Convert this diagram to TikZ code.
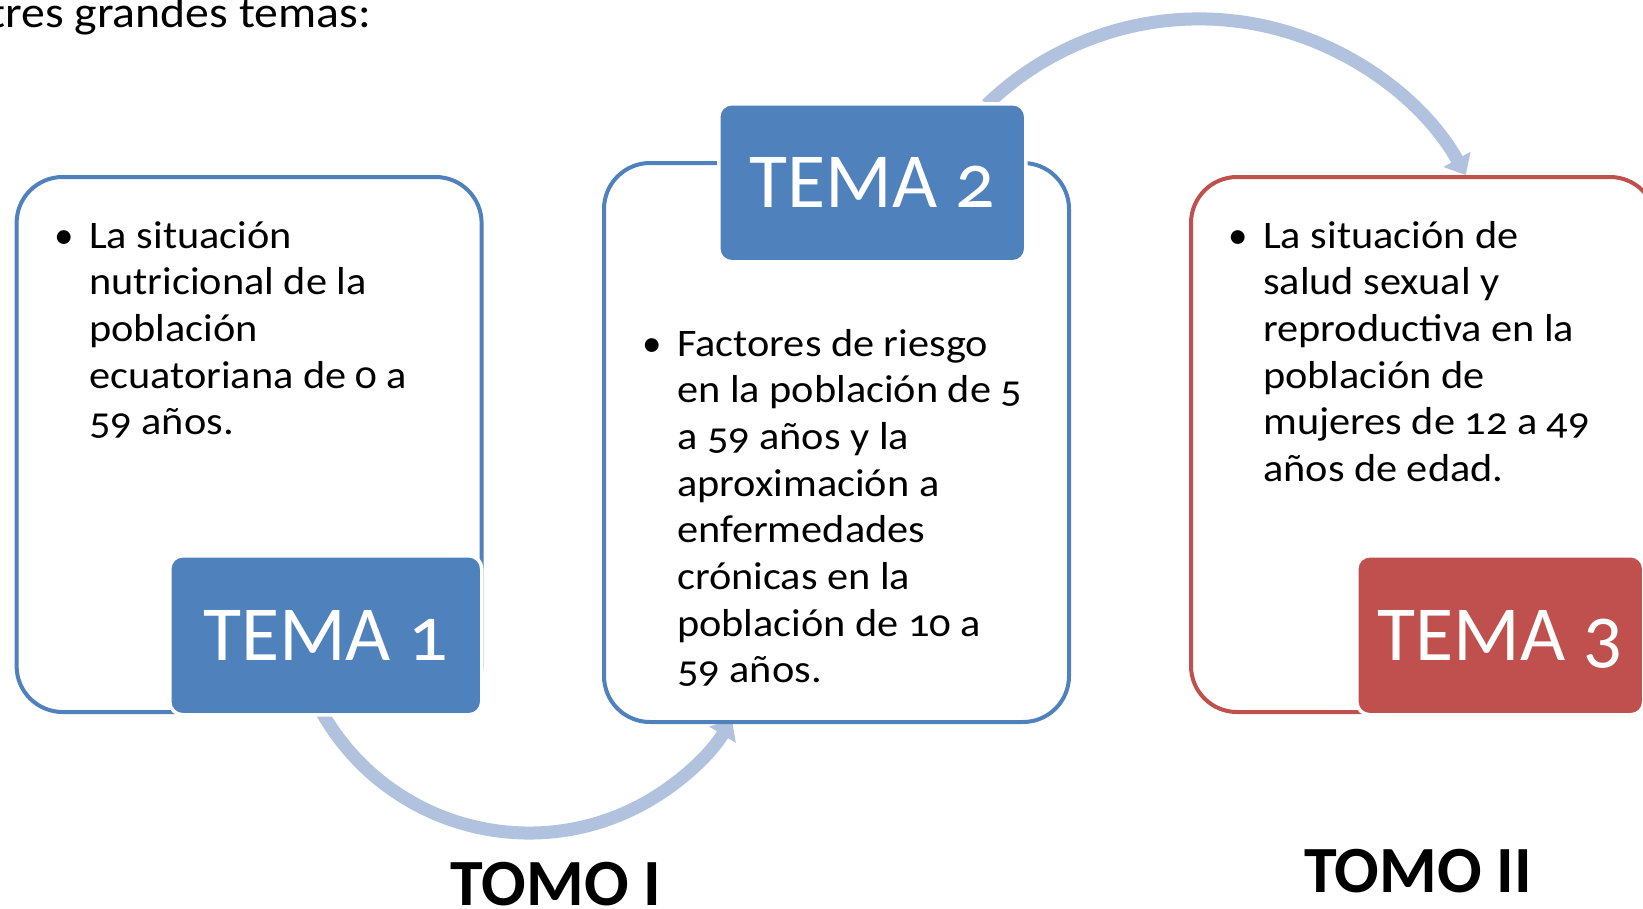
\documentclass[tikz,border=0pt]{standalone}
\usepackage{fontspec}
\setmainfont{Carlito}[Numbers=OldStyle]
\newfontfamily\bodyfont{Carlito}[Numbers=OldStyle,FakeStretch=1.085]
\usetikzlibrary{arrows.meta}
\definecolor{temablue}{RGB}{79,129,189}
\definecolor{temared}{RGB}{192,80,77}
\definecolor{arrowblue}{RGB}{177,194,222}
\tikzset{
  outlinebox/.style={line width=4pt, rounded corners=46pt, fill=white, anchor=north west, inner sep=0pt},
  temabox/.style={draw=white, line width=3.5pt, rounded corners=13pt, anchor=north west,
    text=white, font=\fontsize{78}{90}\selectfont, text depth=0pt, inner sep=0pt},
  bodytext/.style={align=left, anchor=base west, inner sep=0pt, font=\bodyfont\fontsize{39}{46.7}\selectfont},
  bulletmark/.style={anchor=base, inner sep=0pt, font=\fontsize{39}{46.7}\selectfont},
  tomolabel/.style={anchor=base, inner sep=0pt, font=\fontsize{66}{70}\selectfont\bfseries},
  bigarrow/.style={draw=arrowblue, line width=13pt, -{Triangle[width=30pt,length=18pt]}},
}
\begin{document}
\begin{tikzpicture}[x=1pt,y=1pt]
\clip (0,0) rectangle (1643,-908);
\fill[white] (0,0) rectangle (1643,-908);

% intro text
\node[anchor=base east, inner sep=0pt, font=\bodyfont\fontsize{44}{50}\selectfont] (intro) at (371,-27) {tres grandes temas:};

% arrows (drawn first, behind boxes)
\coordinate (a1s) at ({529+238*cos(209)},{-595+238*sin(209)});
\draw[bigarrow] (a1s) arc[start angle=209, end angle=328.5, radius=238];
\coordinate (a2s) at ({1199.1+305.8*cos(134)},{-324.7+305.8*sin(134)});
\draw[bigarrow] (a2s) arc[start angle=134, end angle=29.3, radius=305.8];

% outline boxes
\node[outlinebox, draw=temablue, minimum width=465pt, minimum height=535pt] (b1) at (14.6,-175) {};
\node[outlinebox, draw=temablue, minimum width=465pt, minimum height=559pt] (b2) at (602,-161) {};
\node[outlinebox, draw=temared, minimum width=465pt, minimum height=535pt] (b3) at (1189,-175) {};

% TEMA boxes
\node[temabox, fill=temablue, minimum width=312pt, minimum height=159pt] (t1) at (168,-554) {TEMA 1};
\node[temabox, fill=temablue, minimum width=307pt, minimum height=158pt] (t2) at (717,-102) {TEMA 2};
\node[temabox, fill=temared, minimum width=287pt, minimum height=159pt] (t3) at (1355,-554) {TEMA 3};

% bullet texts (anchored at the baseline of their last line)
\node[bulletmark] (m1) at (64,-248) {•};
\node[bodytext] (x1) at (89,-434.8) {La situación\\nutricional de la\\población\\ecuatoriana de 0 a\\59 años.};
\node[bulletmark] (m2) at (652,-356) {•};
\node[bodytext] (x2) at (677,-682.9) {Factores de riesgo\\en la población de 5\\a 59 años y la\\aproximación a\\enfermedades\\crónicas en la\\población de 10 a\\59 años.};
\node[bulletmark] (m3) at (1238,-248) {•};
\node[bodytext] (x3) at (1263,-481.5) {La situación de\\salud sexual y\\reproductiva en la\\población de\\mujeres de 12 a 49\\años de edad.};

% TOMO labels
\node[tomolabel] (tomo1) at (556,-905) {TOMO I};
\node[tomolabel] (tomo2) at (1418,-892) {TOMO II};
\end{tikzpicture}
\end{document}
